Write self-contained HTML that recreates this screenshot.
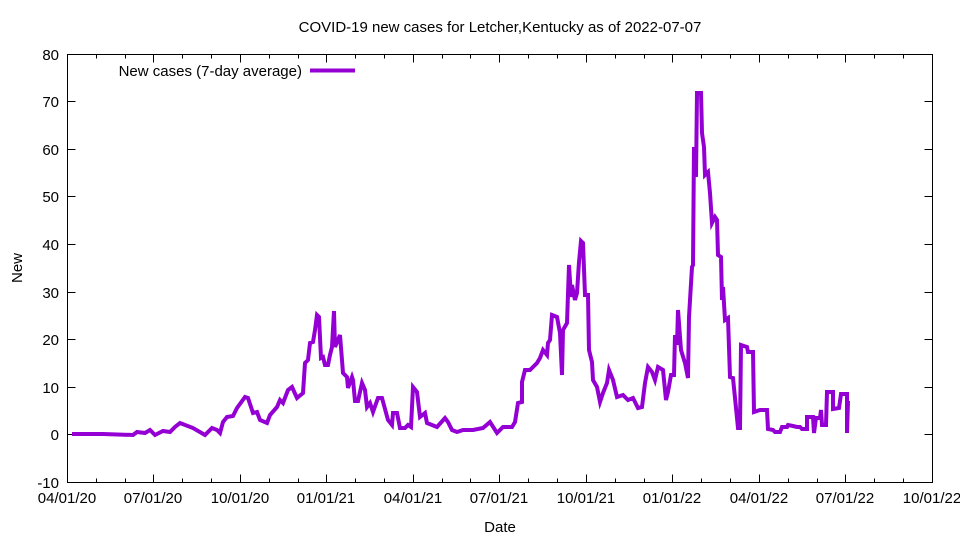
<!DOCTYPE html>
<html><head><meta charset="utf-8"><style>
html,body{margin:0;padding:0;background:#fff;}
svg{display:block;font-family:"Liberation Sans",Arial,sans-serif;}
</style></head><body>
<svg width="960" height="540" viewBox="0 0 960 540" xmlns="http://www.w3.org/2000/svg">
<rect width="960" height="540" fill="#fff"/>
<text x="500" y="32" font-size="15" text-anchor="middle">COVID-19 new cases for Letcher,Kentucky as of 2022-07-07</text>
<g stroke="#000" stroke-width="1" fill="none">
<rect x="67.5" y="54.5" width="865" height="428"/>
<path d="M67.5 101.5h8M932.5 101.5h-8M67.5 149.5h8M932.5 149.5h-8M67.5 196.5h8M932.5 196.5h-8M67.5 244.5h8M932.5 244.5h-8M67.5 292.5h8M932.5 292.5h-8M67.5 339.5h8M932.5 339.5h-8M67.5 387.5h8M932.5 387.5h-8M67.5 434.5h8M932.5 434.5h-8"/>
<path id="tk" d="M153.5 482.5v-8M240.5 482.5v-8M326.5 482.5v-8M413.5 482.5v-8M499.5 482.5v-8M586.5 482.5v-8M672.5 482.5v-8M759.5 482.5v-8M845.5 482.5v-8M153.5 54.5v8M240.5 54.5v8M326.5 54.5v8M413.5 54.5v8M499.5 54.5v8M586.5 54.5v8M672.5 54.5v8M759.5 54.5v8M845.5 54.5v8"/>
<path d="M96.5 482.5v-4M125.5 482.5v-4M182.5 482.5v-4M211.5 482.5v-4M269.5 482.5v-4M298.5 482.5v-4M355.5 482.5v-4M384.5 482.5v-4M442.5 482.5v-4M470.5 482.5v-4M528.5 482.5v-4M557.5 482.5v-4M615.5 482.5v-4M644.5 482.5v-4M701.5 482.5v-4M730.5 482.5v-4M788.5 482.5v-4M817.5 482.5v-4M874.5 482.5v-4M903.5 482.5v-4M96.5 54.5v4M125.5 54.5v4M182.5 54.5v4M211.5 54.5v4M269.5 54.5v4M298.5 54.5v4M355.5 54.5v4M384.5 54.5v4M442.5 54.5v4M470.5 54.5v4M528.5 54.5v4M557.5 54.5v4M615.5 54.5v4M644.5 54.5v4M701.5 54.5v4M730.5 54.5v4M788.5 54.5v4M817.5 54.5v4M874.5 54.5v4M903.5 54.5v4"/>
</g>
<g font-size="15" text-anchor="end">
<text x="59" y="60">80</text><text x="59" y="107">70</text><text x="59" y="155">60</text><text x="59" y="202">50</text><text x="59" y="250">40</text><text x="59" y="298">30</text><text x="59" y="345">20</text><text x="59" y="393">10</text><text x="59" y="440">0</text><text x="59" y="488">-10</text>
</g>
<g font-size="15" text-anchor="middle">
<text x="67" y="503">04/01/20</text><text x="153" y="503">07/01/20</text><text x="240" y="503">10/01/20</text><text x="326" y="503">01/01/21</text><text x="413" y="503">04/01/21</text><text x="499" y="503">07/01/21</text><text x="586" y="503">10/01/21</text><text x="672" y="503">01/01/22</text><text x="759" y="503">04/01/22</text><text x="845" y="503">07/01/22</text><text x="932" y="503">10/01/22</text>
<text x="500" y="532">Date</text>
<text transform="translate(22,268) rotate(-90)">New</text>
</g>
<text x="302" y="76" font-size="15" text-anchor="end">New cases (7-day average)</text>
<line x1="310" y1="70.5" x2="355" y2="70.5" stroke="#9400D3" stroke-width="4"/>
<polyline fill="none" stroke="#9400D3" stroke-width="4" stroke-linejoin="miter" points="72,434 103,434 133,435 137,432 145,433 150,430 155,435 163,431 170,432 175,427 180,423 193,428 205,435 212,428 217,430 220,433 223,422 227,417 233,416 237,408 245,397 248,398 253,413 257,412 260,420 267,423 270,415 277,407 280,400 283,403 288,390 292,387 297,398 303,393 305,363 308,360 310,343 313,342 315,330 317,315 319,317 321,358 323,357 325,365 328,365 330,355 332,347 334,311 335,347 340,335 343,373 347,377 348,388 352,377 353,380 355,401 358,401 362,383 365,390 367,407 370,403 373,412 378,398 382,398 388,420 392,425 393,413 397,413 400,428 405,428 408,425 411,427 413,387 417,392 420,417 425,413 427,423 437,427 445,418 448,422 452,430 457,432 463,430 473,430 483,428 490,422 497,433 503,427 512,427 515,422 518,403 522,402 522,382 525,370 530,370 533,367 537,363 540,358 543,350 547,355 548,343 550,340 552,315 557,317 560,333 562,375 563,330 567,323 569,265 571,297 572,285 575,300 577,293 579,262 581,241 583,243 585,295 588,295 589,350 592,362 593,380 597,387 600,402 603,393 607,383 609,370 613,380 617,397 623,395 628,400 633,398 638,408 642,407 645,383 648,367 652,372 655,380 658,367 663,370 666,400 668,392 671,375 674,375 675,335 677,345 678,310 681,350 685,363 688,378 689,317 692,267 693,265 694,147 696,177 697,93 701,93 702,133 704,147 705,175 708,172 710,193 712,223 715,217 717,220 718,255 721,257 722,300 723,287 725,320 728,318 730,377 733,378 738,428 740,428 741,345 747,347 748,352 753,352 754,412 760,410 767,410 768,429 773,430 775,432 780,432 782,427 787,427 788,425 793,426 797,427 800,427 802,429 807,429 807,417 813,417 814,433 816,418 820,418 821,410 822,425 826,425 827,392 833,392 833,409 839,408 841,394 847,394 847,433 848,401"/>
</svg>
</body></html>
